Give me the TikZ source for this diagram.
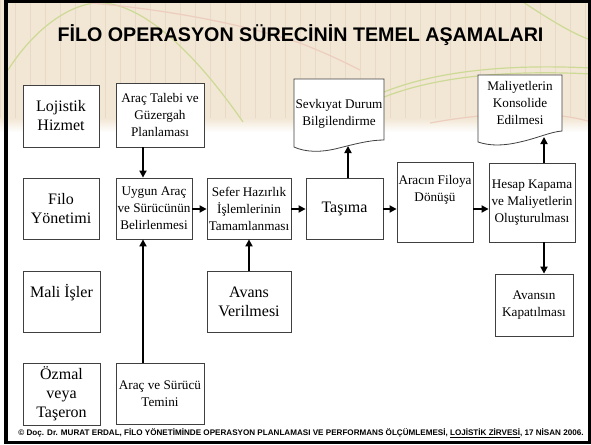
\documentclass[tikz,border=0pt]{standalone}
\usepackage{fontspec}
\setmainfont{Liberation Serif}
\newfontfamily\headfont{Liberation Sans}
\usetikzlibrary{arrows.meta}
\definecolor{slidebg}{RGB}{242,230,212}
\definecolor{gridc}{RGB}{233,218,200}
\definecolor{decogreen}{RGB}{205,218,150}
\definecolor{decopink}{RGB}{236,205,190}
\tikzset{
  box/.style={draw=black!75, fill=white, line width=0.8pt, align=center, inner sep=1pt,
    font=\fontsize{13.2}{17}\selectfont},
  bigbox/.style={box, font=\fontsize{16}{19}\selectfont},
  size/.style 2 args={minimum width=#1, minimum height=#2},
  doctext/.style={align=center, inner sep=0pt, font=\fontsize{13.2}{17}\selectfont},
  docline/.style={draw=black!75, fill=white, line width=0.8pt},
  arr/.style={line width=1.7pt, -{Triangle[length=7pt,width=7pt]}},
  deco/.style={decogreen, line width=1.2pt},
  decob/.style={decopink, line width=1.2pt}
}
\begin{document}
\begin{tikzpicture}[x=1pt,y=-1pt]
\useasboundingbox (0,0) rectangle (591,444);
\fill[white] (0,0) rectangle (591,444);
\fill[slidebg] (0,0) rectangle (591,124);
\draw[gridc, line width=0.4pt, step=15] (0,0) grid (591,120);
\shade[top color=slidebg, bottom color=white] (0,118) rectangle (591,132);
\draw[deco] (8,70) .. controls (40,20) and (80,0) .. (105,3) .. controls (150,8) and (200,60) .. (243,122);
\draw[decob] (90,3) .. controls (150,8) and (230,20) .. (300,43);
\draw[decob] (300,43) .. controls (330,55) and (340,60) .. (360,70);
\draw[deco] (330,124) .. controls (380,80) and (470,62) .. (591,68);
\draw[deco] (336,124) .. controls (386,84) and (474,68) .. (591,74);
\draw[decob] (430,123) .. controls (500,110) and (560,112) .. (591,122);
\draw[deco] (520,0) .. controls (550,20) and (575,35) .. (591,40);
\draw[line width=3.2pt] (6,1.6) rectangle (589.4,442.4);

\node[font=\headfont\bfseries\fontsize{19.7}{22}\selectfont] (title) at (300.5,35) {FİLO OPERASYON SÜRECİNİN TEMEL AŞAMALARI};

\node[bigbox, size={76}{62}] (lojistik) at (61,116) {Lojistik\\Hizmet};
\node[bigbox, size={76}{61}] (filo) at (61,208.5) {Filo\\Yönetimi};
\node[bigbox, size={77}{61}, text depth=22pt] (mali) at (61.5,301.5) {Mali İşler};
\node[bigbox, size={77}{62}] (ozmal) at (61.5,394) {Özmal\\veya\\Taşeron};

\node[box, size={88}{64}] (talep) at (160,115) {Araç Talebi ve\\Güzergah\\Planlaması};
\node[box, size={76}{61}] (uygun) at (154,208.5) {Uygun Araç\\ve Sürücünün\\Belirlenmesi};
\node[box, size={88}{61}] (temin) at (160,393.5) {Araç ve Sürücü\\Temini};
\node[box, size={84}{61}] (sefer) at (249,208.5) {Sefer Hazırlık\\İşlemlerinin\\Tamamlanması};
\node[bigbox, size={84}{61}] (avans) at (249,301.5) {Avans\\Verilmesi};
\node[bigbox, size={77}{61}] (tasima) at (344.5,208.5) {Taşıma};
\node[box, size={76}{80}, text depth=28pt] (donus) at (435,202) {Aracın Filoya\\Dönüşü};
\node[box, size={86}{79}] (hesap) at (532,202.5) {Hesap Kapama\\ve Maliyetlerin\\Oluşturulması};
\node[box, size={78}{62}] (kapat) at (534,305) {Avansın\\Kapatılması};

\draw[docline] (294,79) -- (384,79) -- (384,140) .. controls (370,140) and (355,144) .. (339,148)
  .. controls (320,153) and (305,152) .. (294,147) -- cycle;
\node[doctext] (sevk) at (339,114) {Sevkıyat Durum\\Bilgilendirme};
\draw[docline] (478,75) -- (562,75) -- (562,131) .. controls (550,132) and (538,138) .. (520,142)
  .. controls (503,146) and (490,146) .. (478,142) -- cycle;
\node[doctext] (maliyet) at (520,103) {Maliyetlerin\\Konsolide\\Edilmesi};

\node[font=\headfont\bfseries\fontsize{8.1}{9}\selectfont] (footer) at (301,433)
  {© Doç. Dr. MURAT ERDAL, FİLO YÖNETİMİNDE OPERASYON PLANLAMASI VE PERFORMANS ÖLÇÜMLEMESİ, \underline{LOJİSTİK ZİRVESİ}, 17 NİSAN 2006.};

\coordinate (col) at (143,0);
\coordinate (row) at (0,209);
\coordinate (sevkin) at (348,146);
\coordinate (malin) at (544,137);
\draw[arr] (talep.south -| col) -- (uygun.north -| col);
\draw[arr] (temin.north -| col) -- (uygun.south -| col);
\draw[arr] (uygun.east |- row) -- (sefer.west |- row);
\draw[arr] (avans.north) -- (sefer.south);
\draw[arr] (sefer.east |- row) -- (tasima.west |- row);
\draw[arr] (tasima.north -| sevkin) -- (sevkin);
\draw[arr] (tasima.east |- row) -- (donus.west |- row);
\draw[arr] (donus.east |- row) -- (hesap.west |- row);
\draw[arr] (hesap.north -| malin) -- (malin);
\draw[arr] (hesap.south -| malin) -- (kapat.north -| malin);
\end{tikzpicture}
\end{document}
